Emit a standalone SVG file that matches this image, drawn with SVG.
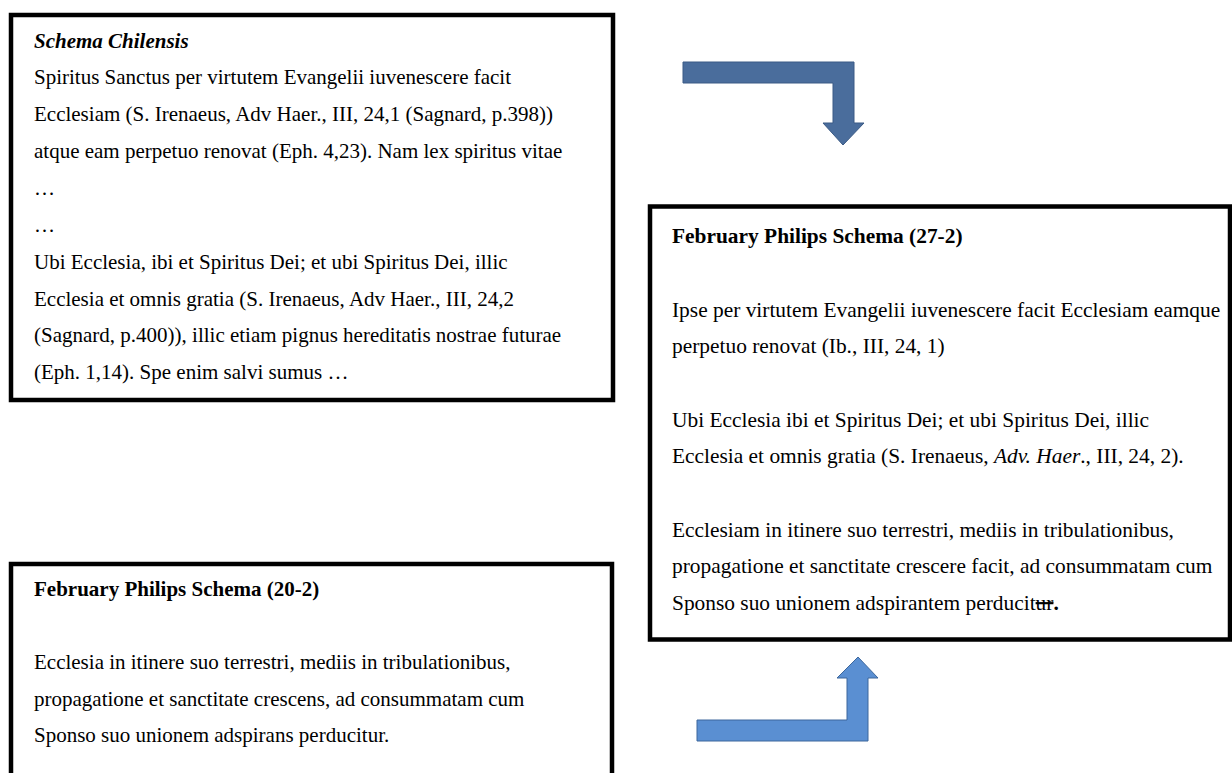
<svg xmlns="http://www.w3.org/2000/svg" width="1232" height="773" viewBox="0 0 1232 773">
<style>
.box{fill:#fff;stroke:#000;stroke-width:4.5}
.t{font-family:"Liberation Serif","Times New Roman",serif;font-size:21px;fill:#000}
.t2{font-size:21.4px}
.b{font-weight:bold}
.i{font-style:italic}
.arrA{fill:#4A6D9C;stroke:#3B5A85;stroke-width:1}
.arrB{fill:#5A8FD2;stroke:#3D679C;stroke-width:1}
</style>
<rect width="1232" height="773" fill="#fff"/>
<g id="connectors">
<path class="arrA" d="M683,62 H854 V123 H864 L843,145 L823,123 H833 V83 H683 Z"/>
<path class="arrB" d="M697,720 H847 V678 H837 L858,657 L878,678 H868 V741 H697 Z"/>
</g>
<g id="schema-chilensis">
<rect class="box" x="11" y="15" width="602" height="385"/>
<text class="t b i" x="34" y="47.5">Schema Chilensis</text>
<text class="t" x="34" y="84">Spiritus Sanctus per virtutem Evangelii iuvenescere facit</text>
<text class="t" x="34" y="120.5">Ecclesiam (S. Irenaeus, Adv Haer., III, 24,1 (Sagnard, p.398))</text>
<text class="t" x="34" y="157.5">atque eam perpetuo renovat (Eph. 4,23). Nam lex spiritus vitae</text>
<text class="t" x="34" y="194.5">…</text>
<text class="t" x="34" y="231.5">…</text>
<text class="t" x="34" y="268.5">Ubi Ecclesia, ibi et Spiritus Dei; et ubi Spiritus Dei, illic</text>
<text class="t" x="34" y="305.5">Ecclesia et omnis gratia (S. Irenaeus, Adv Haer., III, 24,2</text>
<text class="t" x="34" y="341.5">(Sagnard, p.400)), illic etiam pignus hereditatis nostrae futurae</text>
<text class="t" x="34" y="378.5">(Eph. 1,14). Spe enim salvi sumus …</text>
</g>
<g id="february-27-2">
<rect class="box" x="650" y="206.5" width="580" height="433"/>
<text class="t t2 b" x="672" y="243">February Philips Schema (27-2)</text>
<text class="t t2" x="672" y="316.5">Ipse per virtutem Evangelii iuvenescere facit Ecclesiam eamque</text>
<text class="t t2" x="672" y="353">perpetuo renovat (Ib., III, 24, 1)</text>
<text class="t t2" x="672" y="426.5">Ubi Ecclesia ibi et Spiritus Dei; et ubi Spiritus Dei, illic</text>
<text class="t t2" x="672" y="463">Ecclesia et omnis gratia (S. Irenaeus, <tspan class="i">Adv. Haer</tspan>., III, 24, 2).</text>
<text class="t t2" x="672" y="536.5">Ecclesiam in itinere suo terrestri, mediis in tribulationibus,</text>
<text class="t t2" x="672" y="573">propagatione et sanctitate crescere facit, ad consummatam cum</text>
<text class="t t2" x="672" y="609.5">Sponso suo unionem adspirantem perducit<tspan text-decoration="line-through">ur</tspan><tspan class="b">.</tspan></text>
</g>
<g id="february-20-2">
<rect class="box" x="11" y="564" width="601" height="240"/>
<text class="t b" x="34" y="595.5">February Philips Schema (20-2)</text>
<text class="t" x="34" y="668.5">Ecclesia in itinere suo terrestri, mediis in tribulationibus,</text>
<text class="t" x="34" y="705.5">propagatione et sanctitate crescens, ad consummatam cum</text>
<text class="t" x="34" y="742">Sponso suo unionem adspirans perducitur.</text>
</g>
</svg>
